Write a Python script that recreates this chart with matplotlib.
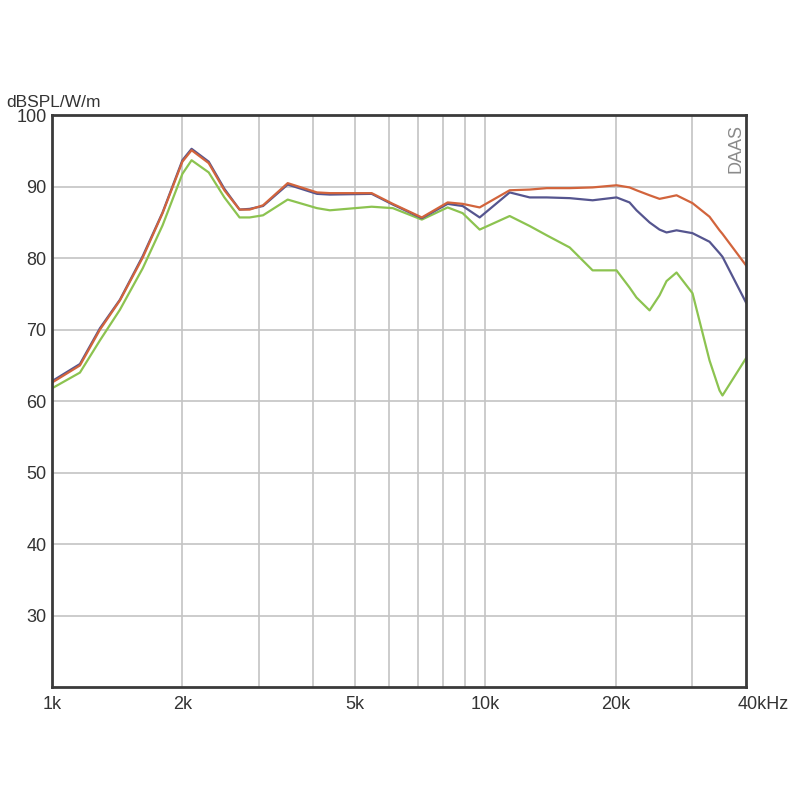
import numpy as np
import matplotlib
matplotlib.use("Agg")
import matplotlib.pyplot as plt
from matplotlib.ticker import FixedLocator, NullFormatter, NullLocator
from matplotlib.transforms import ScaledTranslation

# frequency points (kHz) shared by the three traces
FREQ = [1.0, 1.16, 1.29, 1.435, 1.62, 1.8, 2.0, 2.1, 2.3, 2.5, 2.71, 2.86,
        3.07, 3.5, 4.09, 4.38, 5.47, 6.12, 7.14, 8.19, 8.87, 9.71, 11.39,
        12.67, 13.87, 15.67, 17.7, 20.1, 21.54, 22.35, 23.96, 25.26, 26.22,
        27.65, 30.1, 32.95, 34.75, 35.3, 40.0]

SPL_RED = [62.6, 65.0, 70.0, 74.1, 80.1, 86.3, 93.5, 95.1, 93.3, 89.5, 86.8, 86.8,
           87.4, 90.5, 89.2, 89.1, 89.1, 87.6, 85.7, 87.8, 87.6, 87.1, 89.5,
           89.6, 89.8, 89.8, 89.9, 90.2, 89.9, 89.5, 88.8, 88.3, 88.5,
           88.8, 87.7, 85.8, 83.9, 83.4, 79.0]

SPL_BLUE = [62.8, 65.2, 70.2, 74.2, 80.3, 86.4, 93.7, 95.3, 93.5, 89.7, 86.8, 86.9,
            87.3, 90.3, 89.0, 88.9, 89.0, 87.5, 85.6, 87.6, 87.3, 85.7, 89.2,
            88.5, 88.5, 88.4, 88.1, 88.5, 87.8, 86.7, 85.0, 84.0, 83.6,
            83.9, 83.5, 82.3, 80.7, 80.2, 73.8]

SPL_GREEN = [61.8, 64.0, 68.5, 72.8, 78.6, 84.6, 91.8, 93.7, 92.0, 88.5, 85.7, 85.7,
             86.0, 88.2, 87.0, 86.7, 87.2, 87.0, 85.4, 87.1, 86.3, 84.0, 85.9,
             84.5, 83.2, 81.5, 78.3, 78.3, 75.9, 74.5, 72.7, 74.8, 76.8,
             78.0, 75.1, 65.7, 61.5, 60.8, 66.0]

XTICKS = [1, 2, 5, 10, 20, 40]
XTICK_LABELS = ["1k", "2k", "5k", "10k", "20k", "40kHz"]
XGRID = [2, 3, 4, 5, 6, 7, 8, 9, 10, 20, 30]
YTICKS = [30, 40, 50, 60, 70, 80, 90, 100]

plt.rcParams["font.family"] = ["Liberation Sans Narrow", "Liberation Sans", "DejaVu Sans"]

fig = plt.figure(figsize=(8, 8), dpi=100)
ax = fig.add_axes([0.065, 0.141, 0.8675, 0.715])
ax.set_xscale("log")
ax.set_xlim(1, 40)
ax.set_ylim(20, 100)

for f in XGRID:
    ax.axvline(f, color="#c4c4c4", lw=1.2, zorder=0)
for v in YTICKS[:-1]:
    ax.axhline(v, color="#c4c4c4", lw=1.2, zorder=0)

x = np.array(FREQ)
ax.plot(x, SPL_GREEN, color="#8cc350", lw=1.6)
ax.plot(x, SPL_BLUE, color="#55558f", lw=1.6)
ax.plot(x, SPL_RED, color="#d2643c", lw=1.6)

ax.xaxis.set_major_locator(FixedLocator(XTICKS))
ax.set_xticklabels(XTICK_LABELS)
ax.xaxis.set_minor_locator(NullLocator())
ax.xaxis.set_minor_formatter(NullFormatter())
ax.set_yticks(YTICKS)
ax.tick_params(length=0, labelsize=13, colors="#333333", pad=6)
ax.tick_params(axis="y", pad=4)
last = ax.get_xticklabels()[-1]
last.set_ha("left")
last.set_transform(last.get_transform() + ScaledTranslation(-8 / 100, 0, fig.dpi_scale_trans))

for s in ax.spines.values():
    s.set_color("#3a3a3a")
    s.set_linewidth(2)

fig.text(0.008, 0.862, "dBSPL/W/m", fontsize=12.5, color="#333333", ha="left", va="bottom")
ax.text(0.998, 0.985, "DAAS", transform=ax.transAxes, rotation=90, ha="right", va="top",
        fontsize=13, color="#8a8a8a")

fig.savefig("out.png", dpi=100, facecolor="white")
